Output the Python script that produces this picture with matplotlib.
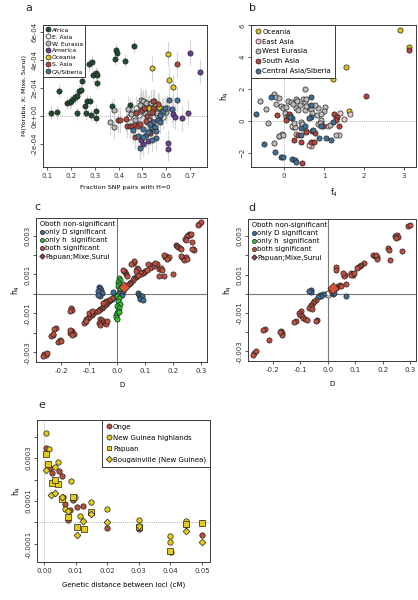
import matplotlib
matplotlib.use('Agg')
import matplotlib.pyplot as plt
from matplotlib.lines import Line2D
import numpy as np

plt.rcParams['font.family'] = ['DejaVu Sans']

# ---------------- Panel a data ----------------
a_groups = ['Africa', 'E. Asia', 'W. Eurasia', 'America', 'Oceania', 'S. Asia', 'CA/Siberia']
a_colors = ['#1f4d2b', '#f4f0f0', '#b8b8b8', '#6b3e9e', '#e2c61e', '#b5483c', '#46739b']
a_africa_x = [0.115, 0.140, 0.149, 0.182, 0.196, 0.200, 0.210, 0.219, 0.227, 0.232, 0.244, 0.224, 0.248, 0.260, 0.269, 0.280, 0.277, 0.288, 0.291, 0.263, 0.283, 0.306, 0.309, 0.311, 0.304, 0.304, 0.372, 0.385, 0.389, 0.392, 0.429, 0.464, 0.450]
a_africa_y = [0.24, 0.26, 1.8, 0.91, 0.98, 1.08, 1.22, 1.32, 1.42, 1.75, 1.87, 0.19, 2.52, 0.74, 1.08, 1.08, 3.68, 3.87, 2.9, 0.19, 0.07, 3.08, 2.95, 2.35, 0.38, -0.12, 0.74, 4.08, 4.7, 4.5, 3.96, 4.97, 0.8]
a_easia_x = [0.443, 0.458, 0.472, 0.486, 0.500, 0.517, 0.528, 0.548, 0.560, 0.574, 0.588, 0.510, 0.535, 0.495, 0.565, 0.520, 0.480, 0.545]
a_easia_y = [-0.05, 0.2, 0.55, 0.07, 0.79, 0.6, -0.05, -0.05, 0.07, -0.17, -0.05, 1.0, 0.95, 0.35, 0.5, -0.4, -0.6, -0.8]
a_weur_x = [0.364, 0.380, 0.381, 0.440, 0.454, 0.478, 0.496, 0.503, 0.514, 0.524, 0.531, 0.535, 0.545, 0.556, 0.570, 0.584, 0.598, 0.605, 0.490, 0.510, 0.525, 0.560, 0.470, 0.575, 0.550]
a_weur_y = [-0.46, -0.77, 0.39, 0.5, 0.12, 0.31, 1.16, 1.04, 0.92, 0.55, 0.31, 0.92, 0.6, 0.31, 0.67, 0.48, 0.31, 0.6, 0.8, 0.2, -0.2, 0.2, -0.3, 0.0, 1.05]
a_amer_x = [0.503, 0.496, 0.524, 0.607, 0.607, 0.628, 0.635, 0.667, 0.691, 0.698, 0.740, 0.531]
a_amer_y = [-1.98, -1.75, -1.8, -1.9, -2.34, 0.14, -0.05, -0.17, 0.24, 4.53, 3.16, -1.13]
a_ocea_x = [0.607, 0.541, 0.610, 0.628, 0.527, 0.569]
a_ocea_y = [4.46, 3.4, 2.6, 2.05, 0.6, 0.67]
a_sasia_x = [0.398, 0.405, 0.430, 0.436, 0.447, 0.458, 0.469, 0.480, 0.491, 0.468, 0.521, 0.531, 0.544, 0.546, 0.564, 0.500, 0.515, 0.644, 0.475, 0.540, 0.505]
a_sasia_y = [-0.29, -0.29, -0.22, -0.7, -0.7, -0.7, -0.65, -0.7, -0.6, -1.47, -0.0, -1.25, 0.55, 1.04, 0.84, 0.43, -0.36, 3.69, 0.2, 0.25, 0.6]
a_casia_x = [0.482, 0.492, 0.503, 0.513, 0.524, 0.538, 0.545, 0.556, 0.565, 0.572, 0.586, 0.596, 0.612, 0.647, 0.626, 0.573, 0.552, 0.503, 0.530, 0.460, 0.555, 0.540]
a_casia_y = [-1.45, -2.27, -0.9, -1.38, -1.14, -0.77, -0.46, -1.57, -0.29, 0.07, 0.36, 0.55, 1.13, 1.16, 0.5, -0.4, -0.77, -1.47, -0.6, -1.0, -1.1, -1.7]
a_err = [0.45, 0.9, 0.9, 0.9, 0.9, 0.9, 0.9]   # half-width of error bars (x1e-4)

# ---------------- Panel b data ----------------
b_groups = ['Oceania', 'East Asia', 'West Eurasia', 'South Asia', 'Central Asia/Siberia']
b_colors = ['#e0c21c', '#f2c8c8', '#bdbdbd', '#b5433b', '#3f6f98']
b_ocea_x = [2.89, 3.12, 1.56, 1.22, 1.62]
b_ocea_y = [5.70, 4.62, 3.42, 2.63, 0.62]
b_easia_x = [1.66, 1.41, 1.30, 0.68, 0.56, 1.10, 1.37, -0.13, -0.05, 0.23, 0.85, 0.92, 0.30, 0.62, 1.50, 0.20]
b_easia_y = [0.44, 0.48, 0.20, -1.60, -0.66, -0.35, -0.87, -0.93, -0.85, -0.41, -0.20, -0.10, -0.80, -1.50, 0.10, -0.35]
b_weur_x = [-0.61, -0.46, -0.40, -0.25, -0.21, -0.13, -0.19, -0.08, -0.03, 0.04, 0.10, 0.17, 0.23, 0.29, 0.33, 0.39, 0.48, 0.52, 0.52, 0.56, 0.62, 0.67, 0.70, 0.83, 0.85, 1.03, 1.00, 0.92, -0.25, -0.13, -0.03, 0.27, 0.25, 0.10, 0.02, 0.14, 0.42, 0.45, 0.04, 0.29, 0.35, 0.52, 0.56, 0.77, 0.92, 1.14, 1.31, 0.89]
b_weur_y = [1.24, 0.75, -0.15, 1.68, 1.51, 1.45, 1.04, 0.93, 0.79, 0.89, 1.26, 1.20, 1.04, 1.35, 1.24, 0.97, 1.37, 1.99, 1.20, 1.37, 0.89, 0.73, 0.48, 0.37, 0.79, 0.89, 0.62, 0.44, -1.39, -0.93, -0.87, -0.39, -0.15, 0.27, 0.48, 0.37, -0.04, -0.19, 0.27, 0.79, 0.68, 0.68, 0.93, 1.00, 0.06, -0.25, -0.87, -0.15]
b_sasia_x = [3.12, 2.06, 1.25, 1.33, 1.37, 0.13, 0.09, 0.06, -0.17, 0.25, 0.43, 0.46, 0.68, 0.75, 0.70, 0.77, 0.98, 1.30, 0.55, 0.35]
b_sasia_y = [4.48, 1.55, 0.41, 0.23, -0.31, 0.41, 0.22, 0.05, 0.37, -1.18, -1.35, -2.63, -1.35, -1.35, -0.66, -0.77, -0.35, 0.05, -0.70, -0.90]
b_casia_x = [-0.69, -0.32, -0.50, -0.23, -0.08, -0.03, 0.20, 0.27, 0.31, 0.68, 0.67, 0.20, 0.43, 0.73, 0.87, 1.04, 1.17, 1.22, 0.68, 0.62, 0.14, 0.43, 0.52, 0.93]
b_casia_y = [0.41, 1.51, -1.43, -1.97, -2.26, -2.26, -2.38, -2.49, -2.59, 1.51, 1.00, 0.21, -0.87, -0.60, -1.08, -1.08, -1.18, -0.10, 0.27, 0.17, 0.27, -0.46, -0.35, -0.31]

# ---------------- Panel c data (h4 in 1e-3) ----------------
cd_labels = ['both non-significant', 'only D significant', 'only h  significant', 'both significant', 'Papuan;Mixe,Surui']
cd_colors = ['#ffffff', '#3f6f98', '#2ec82e', '#c0503e', '#8a4a45']
c_both_x = [0.292, 0.297, 0.289, 0.25, 0.255, 0.26, 0.248, 0.262, 0.24, 0.245, 0.265, 0.27, 0.275, 0.265, 0.208, 0.212, 0.218, 0.222, 0.226, 0.23, 0.235, 0.24, 0.245, 0.238, 0.25, 0.228, 0.17, 0.175, 0.18, 0.185, 0.178, 0.168, 0.2, 0.168, 0.15, 0.15, 0.155, 0.158, 0.12, 0.125, 0.13, 0.115, 0.11, 0.14, 0.135, 0.1, 0.095, 0.09, 0.085, 0.08, 0.105, 0.06, 0.065, 0.07, 0.075, 0.055, 0.05, 0.045, 0.04, 0.035, 0.055, 0.06, 0.058, 0.05, 0.03, 0.028, 0.035, 0.025, 0.022, 0.07, 0.075, 0.068, -0.02, -0.03, -0.035, -0.04, -0.045, -0.05, -0.055, -0.06, -0.065, -0.07, -0.04, -0.045, -0.05, -0.08, -0.085, -0.09, -0.095, -0.1, -0.105, -0.11, -0.1, -0.09, -0.115, -0.12, -0.11, -0.06, -0.055, -0.05, -0.045, -0.04, -0.035, -0.065, -0.06, -0.165, -0.163, -0.167, -0.16, -0.165, -0.17, -0.155, -0.16, -0.168, -0.22, -0.225, -0.23, -0.235, -0.228, -0.205, -0.21, -0.2, -0.26, -0.255, -0.265, -0.25]
c_both_y = [3.6, 3.67, 3.55, 3.0, 3.08, 3.02, 2.95, 3.1, 2.8, 2.75, 2.65, 2.32, 2.28, 2.3, 2.5, 2.45, 2.4, 2.35, 2.3, 1.9, 1.85, 1.82, 1.9, 1.75, 1.8, 1.95, 1.9, 1.95, 1.85, 1.9, 1.8, 1.98, 1.03, 0.91, 0.91, 1.3, 1.35, 1.25, 1.4, 1.5, 1.45, 1.35, 1.55, 1.52, 1.6, 1.2, 1.1, 1.05, 1.0, 1.1, 1.25, 0.8, 0.85, 0.9, 0.95, 0.7, 0.6, 0.55, 0.5, 0.45, 1.6, 1.65, 1.7, 1.55, 1.0, 1.1, 0.9, 1.2, 1.25, 1.35, 1.3, 1.2, -0.2, -0.3, -0.45, -0.5, -0.55, -0.65, -0.7, -0.8, -0.85, -0.9, -0.35, -0.4, -0.45, -0.95, -1.0, -1.1, -1.05, -1.2, -1.25, -1.3, -1.0, -0.9, -1.45, -1.5, -1.4, -1.3, -1.35, -1.45, -1.5, -1.55, -1.4, -1.5, -1.6, -0.75, -0.85, -0.9, -1.9, -1.95, -2.0, -2.05, -2.1, -1.85, -1.75, -1.8, -2.1, -2.15, -2.05, -2.35, -2.45, -2.4, -3.1, -3.15, -3.2, -3.05]
c_onlyD_x = [-0.065, -0.06, -0.058, -0.062, -0.07, -0.055, -0.06, -0.068, 0.075, 0.078, 0.08, 0.085, 0.088, 0.082, 0.09, -0.005, -0.01, 0.01, 0.015, 0.02, -0.015, -0.02, -0.025, -0.03]
c_onlyD_y = [0.35, 0.3, 0.2, 0.1, 0.15, 0.05, -0.1, -0.05, 0.05, -0.05, -0.15, -0.2, -0.1, -0.25, -0.3, -0.05, -0.15, 0.05, -0.05, 0.15, 0.1, -0.25, -0.3, -0.35]
c_onlyh_x = [0.005, 0.008, 0.004, 0.006, 0.003, 0.01, 0.0, 0.005, 0.002, 0.008, -0.002, 0.005, 0.003, 0.0, -0.003, -0.005, 0.0, 0.005]
c_onlyh_y = [0.8, 0.7, 0.6, 0.5, 0.4, 0.3, -0.1, -0.2, -0.35, -0.5, -0.6, -0.7, -0.9, -1.0, -1.1, -1.2, -1.3, -0.95]
c_none_x = [0.005, 0.008, 0.012]
c_none_y = [0.05, -0.05, 0.02]
c_pap_x = [0.025]
c_pap_y = [0.35]

# ---------------- Panel d data (h4 in 1e-3) ----------------
d_both_x = [0.29, 0.299, 0.244, 0.25, 0.254, 0.246, 0.217, 0.222, 0.226, 0.268, 0.165, 0.171, 0.177, 0.18, 0.173, 0.132, 0.122, 0.116, 0.11, 0.104, 0.085, 0.091, 0.083, 0.095, 0.061, 0.059, 0.055, 0.03, 0.028, 0.067, 0.037, 0.043, 0.049, 0.03, 0.012, -0.043, -0.049, -0.055, -0.061, -0.063, -0.067, -0.059, -0.098, -0.104, -0.1, -0.095, -0.091, -0.116, -0.122, -0.083, -0.076, -0.04, -0.043, -0.171, -0.165, -0.168, -0.173, -0.229, -0.234, -0.213, -0.268, -0.262, -0.271]
d_both_y = [3.52, 3.61, 3.0, 3.05, 2.95, 2.91, 2.39, 2.3, 1.78, 2.22, 2.04, 1.96, 1.9, 1.83, 2.0, 1.61, 1.52, 1.43, 1.38, 1.35, 1.09, 1.0, 0.97, 1.09, 1.0, 0.91, 1.09, 1.38, 1.26, 0.51, 0.39, 0.48, 0.43, 0.3, 0.17, -0.3, -0.39, -0.48, -0.57, -0.65, -0.74, -0.77, -0.91, -1.0, -1.09, -1.17, -1.26, -1.43, -1.47, -1.3, -1.35, -1.35, -1.43, -1.92, -2.04, -2.13, -1.99, -1.82, -1.87, -2.39, -3.09, -3.0, -3.17]
d_onlyD_x = [-0.063, -0.061, -0.067, 0.067, -0.03, -0.018, -0.024, -0.037, 0.018, 0.024]
d_onlyD_y = [0.22, 0.1, 0.13, -0.13, -0.08, 0.0, -0.13, -0.18, 0.0, 0.04]
d_none_x = [-0.006, 0.0, 0.002]
d_none_y = [0.0, -0.04, 0.04]
d_pap_x = [0.018]
d_pap_y = [0.3]

# ---------------- Panel e data (h4 in 1e-4) ----------------
e_labels = ['Onge', 'New Guinea highlands', 'Papuan', 'Bougainville (New Guinea)']
e_colors = ['#b5503c', '#e3cb18', '#e3cb18', '#e3cb18']
e_markers = ['o', 'o', 's', 'D']
e_onge_x = [0.0005, 0.0019, 0.0026, 0.0048, 0.0056, 0.0066, 0.0082, 0.0093, 0.0105, 0.0124, 0.0077, 0.015, 0.0198, 0.0301, 0.0401, 0.045, 0.05]
e_onge_y = [3.48, 2.55, 2.3, 2.4, 2.17, 0.85, 0.6, 1.05, 0.74, 0.78, 0.12, 0.43, -0.26, -0.31, -1.38, -0.1, -0.57]
e_ngh_x = [0.0005, 0.0016, 0.0045, 0.0035, 0.0084, 0.0098, 0.0114, 0.015, 0.0198, 0.0301, 0.04, 0.04, 0.045, 0.05, 0.0061, 0.0066]
e_ngh_y = [4.18, 3.4, 2.8, 2.58, 1.94, 1.17, 0.31, 0.94, 0.62, 0.12, -0.65, -0.92, 0.08, -0.03, 1.2, 0.63]
e_pap_x = [0.0005, 0.0014, 0.0024, 0.0045, 0.0035, 0.0056, 0.0077, 0.0105, 0.0126, 0.015, 0.0301, 0.04, 0.045, 0.05, 0.0093]
e_pap_y = [3.2, 2.7, 1.85, 1.8, 2.0, 1.08, 0.25, -0.22, -0.29, 0.5, -0.22, -1.34, -0.08, -0.03, 1.17]
e_boug_x = [0.0005, 0.0022, 0.0035, 0.0056, 0.0077, 0.0105, 0.0124, 0.015, 0.0198, 0.0301, 0.045, 0.05]
e_boug_y = [2.46, 1.28, 1.38, 1.17, 0.54, -0.57, 0.08, 0.4, 0.0, -0.18, -0.38, -0.92]

# ---------------- Figure ----------------
W, H = 418, 600
fig = plt.figure(figsize=(W / 100, H / 100), dpi=100)

def ax_px(l, t, r, b):
    return fig.add_axes([l / W, 1 - b / H, (r - l) / W, (b - t) / H])

AX = '#3a3a3a'
def style(ax):
    for s in ax.spines.values():
        s.set_color(AX)
        s.set_linewidth(0.7)
    ax.tick_params(direction='out', length=2.5, width=0.6, color=AX,
                   labelsize=5, pad=1.5, labelcolor='#333333')
    ax.tick_params(axis='y', labelrotation=90)
    for lab in ax.get_yticklabels():
        lab.set_va('center')

def legend(ax, handles, labels, loc, fs, ls=0.25, bp=0.4, frame=True, **kw):
    lg = ax.legend(handles, labels, loc=loc, fontsize=fs, frameon=frame,
                   handletextpad=0.2, labelspacing=ls, borderpad=bp,
                   handlelength=0.9, borderaxespad=0.0, fancybox=False, **kw)
    if frame:
        lg.get_frame().set_edgecolor(AX)
        lg.get_frame().set_linewidth(0.7)
        lg.get_frame().set_alpha(1)
    return lg

def mk(color, marker='o', ms=3.6):
    return Line2D([], [], linestyle='none', marker=marker, markersize=ms,
                  markerfacecolor=color, markeredgecolor='#222222', markeredgewidth=0.5)

MS = 14

# ----- Panel a -----
ax = ax_px(43, 25, 207, 167)
a_x = [a_africa_x, a_easia_x, a_weur_x, a_amer_x, a_ocea_x, a_sasia_x, a_casia_x]
a_y = [a_africa_y, a_easia_y, a_weur_y, a_amer_y, a_ocea_y, a_sasia_y, a_casia_y]
for xs, ys, e in zip(a_x, a_y, a_err):
    ys = np.array(ys) * 1e-4
    ax.vlines(xs, ys - e * 1e-4, ys + e * 1e-4, color='#d6d6d6', lw=0.8, zorder=1)
ax.axhline(0, color='#999999', lw=0.6, ls=(0, (1, 1.5)), zorder=1)
for xs, ys, c in zip(a_x, a_y, a_colors):
    ax.scatter(xs, np.array(ys) * 1e-4, s=MS, c=c, edgecolors='#222222', linewidths=0.5, zorder=3)
ax.set_xlim(0.083, 0.771)
ax.set_ylim(-3.65e-4, 6.5e-4)
ax.set_xticks([0.1, 0.2, 0.3, 0.4, 0.5, 0.6, 0.7])
ax.set_xticklabels(['0.1', '0.2', '0.3', '0.4', '0.5', '0.6', '0.7'])
ax.set_yticks([-2e-4, 0, 2e-4, 4e-4, 6e-4])
ax.set_yticklabels(['-2e-04', '0e+00', '2e-04', '4e-04', '6e-04'])
style(ax)
ax.set_xlabel('Fraction SNP pairs with H=0', fontsize=4.6, labelpad=5)
ax.set_ylabel('f4(Yoruba, X; Mixe, Surui)', fontsize=4.6, labelpad=3)
lg = legend(ax, [mk(c) for c in a_colors], a_groups, 'upper left', 4.3, ls=0.3)
lg.set_zorder(5)

# ----- Panel b -----
ax = ax_px(251, 25, 416, 167)
ax.axhline(0, color='#999999', lw=0.6, ls=(0, (1, 1.5)), zorder=1)
ax.axvline(0, color='#999999', lw=0.6, ls=(0, (1, 1.5)), zorder=1)
b_x = [b_ocea_x, b_easia_x, b_weur_x, b_sasia_x, b_casia_x]
b_y = [b_ocea_y, b_easia_y, b_weur_y, b_sasia_y, b_casia_y]
for xs, ys, c in zip(b_x, b_y, b_colors):
    ax.scatter(xs, ys, s=MS, c=c, edgecolors='#222222', linewidths=0.5, zorder=3)
ax.set_xlim(-0.825, 3.3)
ax.set_ylim(-2.9, 6.03)
ax.set_xticks([0, 1, 2, 3])
ax.set_yticks([-2, 0, 2, 4, 6])
style(ax)
ax.set_xlabel(r'$\mathregular{f_4}$', fontsize=5.5, labelpad=6)
ax.set_ylabel(r'$\mathregular{h_4}$', fontsize=5.5, labelpad=6)
lg = legend(ax, [mk(c) for c in b_colors], b_groups, 'upper left', 5.0, ls=0.55, bp=0.55)
lg.set_zorder(5)

# ----- Panels c, d -----
def cd_panel(rect, both, onlyD, onlyh, none, pap):
    ax = ax_px(*rect)
    ax.axhline(0, color='#777777', lw=0.8, zorder=1)
    ax.axvline(0, color='#777777', lw=0.8, zorder=1)
    sets = [(none, cd_colors[0]), (onlyD, cd_colors[1]), (onlyh, cd_colors[2]), (both, cd_colors[3])]
    for (xs, ys), c in sets:
        if len(xs):
            ax.scatter(xs, np.array(ys) * 1e-3, s=MS, c=c, edgecolors='#222222', linewidths=0.5, zorder=3)
    ax.scatter(pap[0], np.array(pap[1]) * 1e-3, s=32, c='#d9553a', marker='D',
               edgecolors='#222222', linewidths=0.5, zorder=4)
    ax.set_xlim(-0.29, 0.32)
    ax.set_ylim(-0.0035, 0.0039)
    ax.set_xticks([-0.2, -0.1, 0.0, 0.1, 0.2, 0.3])
    ax.set_xticklabels(['-0.2', '-0.1', '0.0', '0.1', '0.2', '0.3'])
    ax.set_yticks([-0.003, -0.002, -0.001, 0, 0.001, 0.002, 0.003])
    ax.set_yticklabels(['-0.003', '', '-0.001', '', '0.001', '', '0.003'])
    style(ax)
    ax.set_xlabel('D', fontsize=5, labelpad=6)
    ax.set_ylabel(r'$\mathregular{h_4}$', fontsize=5.5, labelpad=2)
    hs = [mk(cd_colors[0], ms=3), mk(cd_colors[1], ms=3), mk(cd_colors[2], ms=3),
          mk(cd_colors[3], ms=3), mk(cd_colors[4], marker='D', ms=2.8)]
    ax.legend(hs, cd_labels, loc='upper left', fontsize=5.0, frameon=False,
              handletextpad=0.1, labelspacing=0.32, borderpad=0.3,
              handlelength=0.8, borderaxespad=0.1)
    return ax

cd_panel((36, 218, 207, 362), (c_both_x, c_both_y), (c_onlyD_x, c_onlyD_y),
         (c_onlyh_x, c_onlyh_y), (c_none_x, c_none_y), (c_pap_x, c_pap_y))
cd_panel((248, 219, 416, 361), (d_both_x, d_both_y), (d_onlyD_x, d_onlyD_y),
         ([], []), (d_none_x, d_none_y), (d_pap_x, d_pap_y))

# ----- Panel e -----
ax = ax_px(37, 420, 210, 562)
ax.axhline(0, color='#999999', lw=0.6, ls=(0, (1, 1.5)), zorder=1)
ax.axvline(0, color='#999999', lw=0.6, ls=(0, (1, 1.5)), zorder=1)
e_x = [e_onge_x, e_ngh_x, e_pap_x, e_boug_x]
e_y = [e_onge_y, e_ngh_y, e_pap_y, e_boug_y]
e_sizes = [15, 15, 13, 12]
for xs, ys, c, m, s in zip(e_x, e_y, e_colors, e_markers, e_sizes):
    ax.scatter(xs, np.array(ys) * 1e-4, s=s, c=c, marker=m, edgecolors='#222222', linewidths=0.5, zorder=3)
ax.set_xlim(-0.0022, 0.0525)
ax.set_ylim(-0.000184, 0.000477)
ax.set_xticks([0, 0.01, 0.02, 0.03, 0.04, 0.05])
ax.set_xticklabels(['0.00', '0.01', '0.02', '0.03', '0.04', '0.05'])
ax.set_yticks([-0.0001, 0, 0.0001, 0.0002, 0.0003, 0.0004])
ax.set_yticklabels(['-0.0001', '', '0.0001', '', '0.0003', ''])
style(ax)
ax.set_xlabel('Genetic distance between loci (cM)', fontsize=5, labelpad=6)
ax.set_ylabel(r'$\mathregular{h_4}$', fontsize=5.5, labelpad=2)
lg = legend(ax, [mk(c, m, ms) for c, m, ms in zip(e_colors, e_markers, [3.6, 3.6, 3.3, 3.2])],
            e_labels, 'upper right', 5.0, ls=0.7, bp=0.55)
lg.set_zorder(5)

# panel letters
for t, x, y in [('a', 29, 8), ('b', 252, 8), ('c', 37, 207), ('d', 252, 208), ('e', 42, 405)]:
    fig.text(x / W, 1 - y / H, t, fontsize=8, ha='center', va='center', color='#222222')

fig.savefig('out.png', dpi=100)
